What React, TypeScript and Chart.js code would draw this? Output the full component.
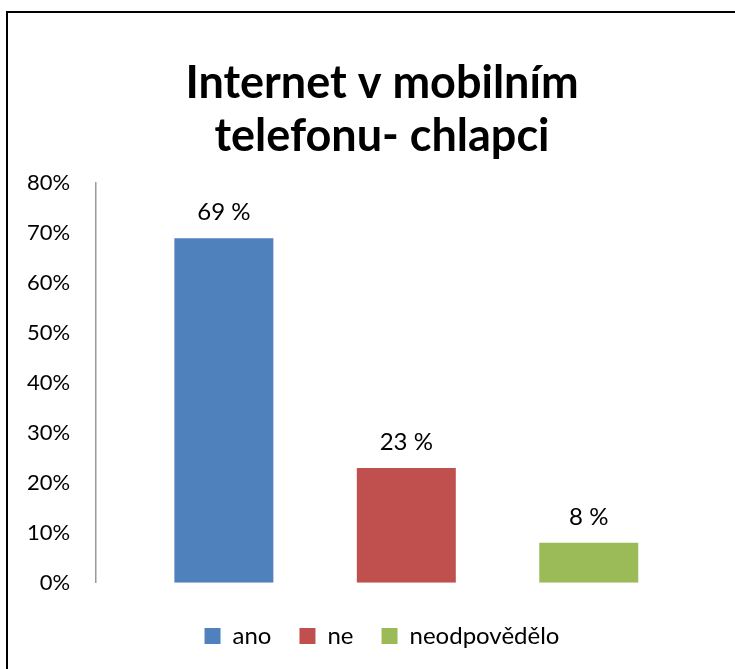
import React, { useEffect, useRef } from 'react';
import { Chart, registerables } from 'chart.js';

Chart.register(...registerables);

const titleLines = ['Internet v mobilním', 'telefonu- chlapci'];
const categories = ['ano', 'ne', 'neodpovědělo'];
const values = [69, 23, 8];
const valueLabels = ['69 %', '23 %', '8 %'];
const colors = ['#4F81BD', '#C0504D', '#9BBB59'];
const yMin = 0;
const yMax = 80;
const yStep = 10;

const FONT = 'Lato, "Open Sans", sans-serif';
const CANVAS_W = 763;
const CANVAS_H = 669;

const dataLabelPlugin = {
  id: 'valueLabels',
  afterDatasetsDraw(chart: any) {
    const ctx = chart.ctx;
    ctx.save();
    ctx.font = `24px ${FONT}`;
    ctx.fillStyle = '#000';
    ctx.textAlign = 'center';
    ctx.textBaseline = 'middle';
    chart.data.datasets.forEach((_ds: any, i: number) => {
      const meta = chart.getDatasetMeta(i);
      meta.data.forEach((el: any) => {
        ctx.fillText(valueLabels[i], el.x, el.y - 26);
      });
    });
    ctx.restore();
  },
};

export default function App() {
  const ref = useRef<HTMLCanvasElement>(null);
  useEffect(() => {
    const chart = new Chart(ref.current as HTMLCanvasElement, {
      type: 'bar',
      data: {
        datasets: categories.map((c, i) => ({
          label: c,
          data: [{ x: i, y: values[i] }],
          backgroundColor: colors[i],
          borderWidth: 0,
          grouped: false,
          categoryPercentage: 1,
          barPercentage: 0.5425,
        })),
      } as any,
      options: {
        animation: false,
        responsive: false,
        devicePixelRatio: 1,
        layout: { padding: { left: 1, right: 0, top: 0, bottom: 11 } },
        plugins: {
          title: {
            display: true,
            text: titleLines,
            color: '#000',
            font: { family: FONT, size: 45, weight: 'bold', lineHeight: 1.18 },
            padding: { top: 57, bottom: 20 },
          },
          legend: {
            position: 'bottom',
            labels: {
              boxWidth: 16,
              boxHeight: 16,
              padding: 28,
              color: '#000',
              font: { family: FONT, size: 24 },
            },
          },
          tooltip: { enabled: false },
        },
        scales: {
          x: {
            type: 'linear',
            bounds: 'data',
            offset: false,
            min: -0.7,
            max: 2.955,
            afterBuildTicks: (s: any) => {
              s.ticks = categories.map((_c, i) => ({ value: i }));
            },
            grid: { display: false, drawTicks: false, offset: false },
            border: { display: false },
            ticks: { callback: () => '', padding: 0, font: { size: 11 } },
          },
          y: {
            min: yMin,
            max: yMax,
            grid: { display: false, drawTicks: false },
            border: { display: true, color: '#9a9a9a', width: 1.5 },
            ticks: {
              stepSize: yStep,
              padding: 26,
              color: '#000',
              font: { family: FONT, size: 22 },
              callback: (v: any) => v + '%',
            },
          },
        },
      } as any,
      plugins: [dataLabelPlugin],
    });
    return () => chart.destroy();
  }, []);
  return (
    <div style={{ position: 'fixed', left: 0, top: 0, width: 735, height: 669, overflow: 'hidden', background: '#fff' }}>
      <div
        style={{
          position: 'absolute',
          left: 6,
          top: 11,
          width: 800,
          height: 800,
          border: '2px solid #000',
          boxSizing: 'border-box',
        }}
      />
      <canvas
        ref={ref}
        width={CANVAS_W}
        height={CANVAS_H}
        style={{ position: 'absolute', left: 0, top: 0, width: CANVAS_W, height: CANVAS_H }}
      />
    </div>
  );
}
